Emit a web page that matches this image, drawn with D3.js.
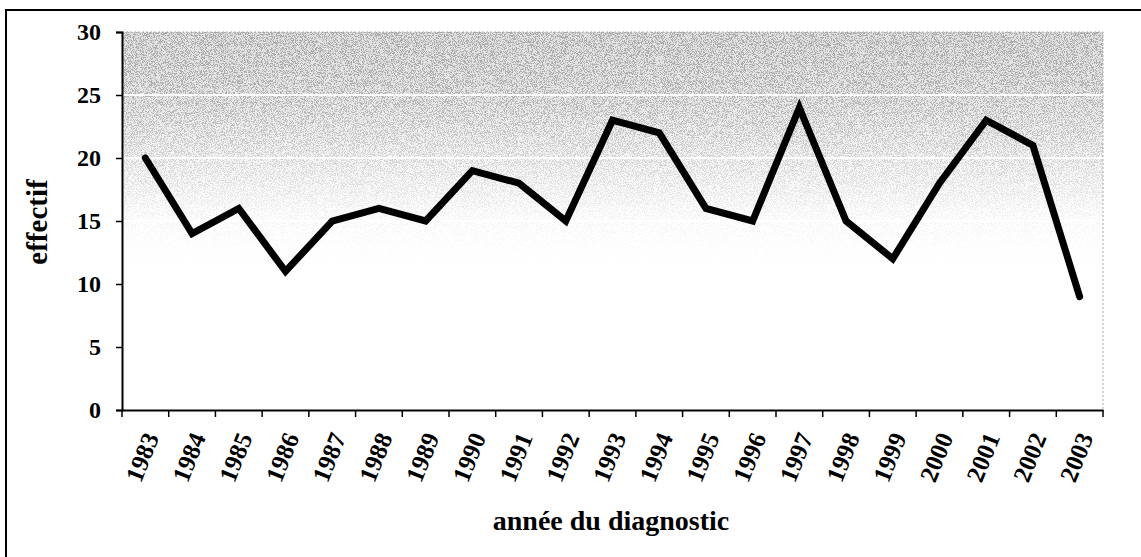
<!DOCTYPE html>
<html>
<head>
<meta charset="utf-8">
<script src="https://cdn.jsdelivr.net/npm/d3@7"></script>
<style>
  body { margin: 0; background: #fff; }
  svg text { font-family: "Liberation Serif", "Times New Roman", serif; font-weight: bold; fill: #000; }
</style>
</head>
<body>
<svg id="chart" width="1141" height="557"></svg>
<script>
// data
var years = ["1983", "1984", "1985", "1986", "1987", "1988", "1989", "1990", "1991", "1992",
    "1993", "1994", "1995", "1996", "1997", "1998", "1999", "2000", "2001", "2002", "2003"];
var effectif = [20, 14, 16, 11, 15, 16, 15, 19, 18, 15, 23, 22, 16, 15, 24, 15, 12, 18, 23, 21, 9];
var yTicks = [0, 5, 10, 15, 20, 25, 30];

var svg = d3.select("#chart");
var plotLeft = 122, plotRight = 1103, plotTop = 32, plotBottom = 410;

var x = d3.scaleBand().domain(years).range([plotLeft, plotRight]);
var y = d3.scaleLinear().domain([0, 30]).range([plotBottom, plotTop]);

// outer frame (only left and top edges show)
svg.append("path")
    .attr("d", "M6,557 L6,10 L1141,10")
    .attr("fill", "none")
    .attr("stroke", "#000")
    .attr("stroke-width", 2);

var defs = svg.append("defs");

var bg = defs.append("linearGradient").attr("id", "bg")
    .attr("x1", 0).attr("y1", 0).attr("x2", 0).attr("y2", 1);
bg.append("stop").attr("offset", "0%").attr("stop-color", "#e2e2e2");
bg.append("stop").attr("offset", "17%").attr("stop-color", "#e8e8e8");
bg.append("stop").attr("offset", "35%").attr("stop-color", "#f6f6f6");
bg.append("stop").attr("offset", "50%").attr("stop-color", "#ffffff");

var fade = defs.append("linearGradient").attr("id", "fade")
    .attr("x1", 0).attr("y1", 0).attr("x2", 0).attr("y2", 1);
fade.append("stop").attr("offset", "0%").attr("stop-color", "#aaa");
fade.append("stop").attr("offset", "16%").attr("stop-color", "#999");
fade.append("stop").attr("offset", "33%").attr("stop-color", "#555");
fade.append("stop").attr("offset", "48%").attr("stop-color", "#1a1a1a");
fade.append("stop").attr("offset", "62%").attr("stop-color", "#000");

defs.append("mask").attr("id", "fadeMask")
    .attr("maskUnits", "userSpaceOnUse")
    .append("rect")
    .attr("x", plotLeft).attr("y", plotTop)
    .attr("width", plotRight - plotLeft).attr("height", plotBottom - plotTop)
    .attr("fill", "url(#fade)");

var noise = defs.append("filter").attr("id", "noise")
    .attr("x", 0).attr("y", 0).attr("width", "100%").attr("height", "100%");
noise.append("feTurbulence")
    .attr("type", "fractalNoise")
    .attr("baseFrequency", 1.1)
    .attr("numOctaves", 2)
    .attr("seed", 7);
noise.append("feColorMatrix")
    .attr("type", "matrix")
    .attr("values", "0 0 0 0 0.25  0 0 0 0 0.25  0 0 0 0 0.25  9 0 0 0 -4.3");

// plot background
svg.append("rect")
    .attr("x", plotLeft).attr("y", plotTop)
    .attr("width", plotRight - plotLeft).attr("height", plotBottom - plotTop)
    .attr("fill", "url(#bg)");

svg.append("g").attr("mask", "url(#fadeMask)")
    .append("rect")
    .attr("x", plotLeft).attr("y", plotTop)
    .attr("width", plotRight - plotLeft).attr("height", plotBottom - plotTop)
    .attr("filter", "url(#noise)");

// white gridlines
svg.append("g")
    .selectAll("line")
    .data(yTicks.filter(function (d) { return d > 0 && d < 30; }))
    .join("line")
    .attr("x1", plotLeft).attr("x2", plotRight)
    .attr("y1", function (d) { return y(d); })
    .attr("y2", function (d) { return y(d); })
    .attr("stroke", "#fff")
    .attr("stroke-width", 2);

// faint top / right border of plot area
svg.append("path")
    .attr("d", "M" + plotLeft + "," + plotTop + " H" + plotRight + " V" + plotBottom)
    .attr("fill", "none")
    .attr("stroke", "#aaa")
    .attr("stroke-width", 1)
    .attr("stroke-dasharray", "2,2");

// y axis
var yAxis = svg.append("g")
    .attr("transform", "translate(" + plotLeft + ",0)")
    .call(d3.axisLeft(y).tickValues(yTicks).tickSize(6).tickPadding(15));
yAxis.select(".domain").attr("stroke-width", 2);
yAxis.selectAll(".tick line").attr("stroke-width", 1.5);
yAxis.selectAll("text").attr("font-size", 24).attr("font-family", null);

// x axis with ticks between categories
var xAxis = svg.append("g")
    .attr("transform", "translate(0," + plotBottom + ")")
    .call(d3.axisBottom(x).tickSize(0).tickSizeOuter(0).tickFormat(""));
xAxis.select(".domain").attr("stroke-width", 2);

var bounds = years.map(function (d) { return x(d); }).concat([plotRight]);
xAxis.selectAll(".sep")
    .data(bounds)
    .join("line")
    .attr("class", "sep")
    .attr("x1", function (d) { return d; })
    .attr("x2", function (d) { return d; })
    .attr("y1", 0).attr("y2", 7)
    .attr("stroke", "#000")
    .attr("stroke-width", 1.5);

svg.append("g")
    .selectAll("text")
    .data(years)
    .join("text")
    .attr("transform", function (d) {
        return "translate(" + (x(d) + x.bandwidth() / 2 + 6) + "," + 434 + ") rotate(-68)";
    })
    .attr("text-anchor", "end")
    .attr("dy", "0.35em")
    .attr("font-size", 25)
    .text(function (d) { return d; });

// data line
var line = d3.line()
    .x(function (d, i) { return x(years[i]) + x.bandwidth() / 2; })
    .y(function (d) { return y(d); });

svg.append("path")
    .datum(effectif)
    .attr("d", line)
    .attr("fill", "none")
    .attr("stroke", "#000")
    .attr("stroke-width", 7)
    .attr("stroke-linejoin", "miter")
    .attr("stroke-linecap", "round");

// axis titles
svg.append("text")
    .attr("x", 611)
    .attr("y", 530)
    .attr("text-anchor", "middle")
    .attr("font-size", 28)
    .text("année du diagnostic");

svg.append("text")
    .attr("transform", "translate(47,222) rotate(-90)")
    .attr("text-anchor", "middle")
    .attr("font-size", 29)
    .text("effectif");
</script>
</body>
</html>
